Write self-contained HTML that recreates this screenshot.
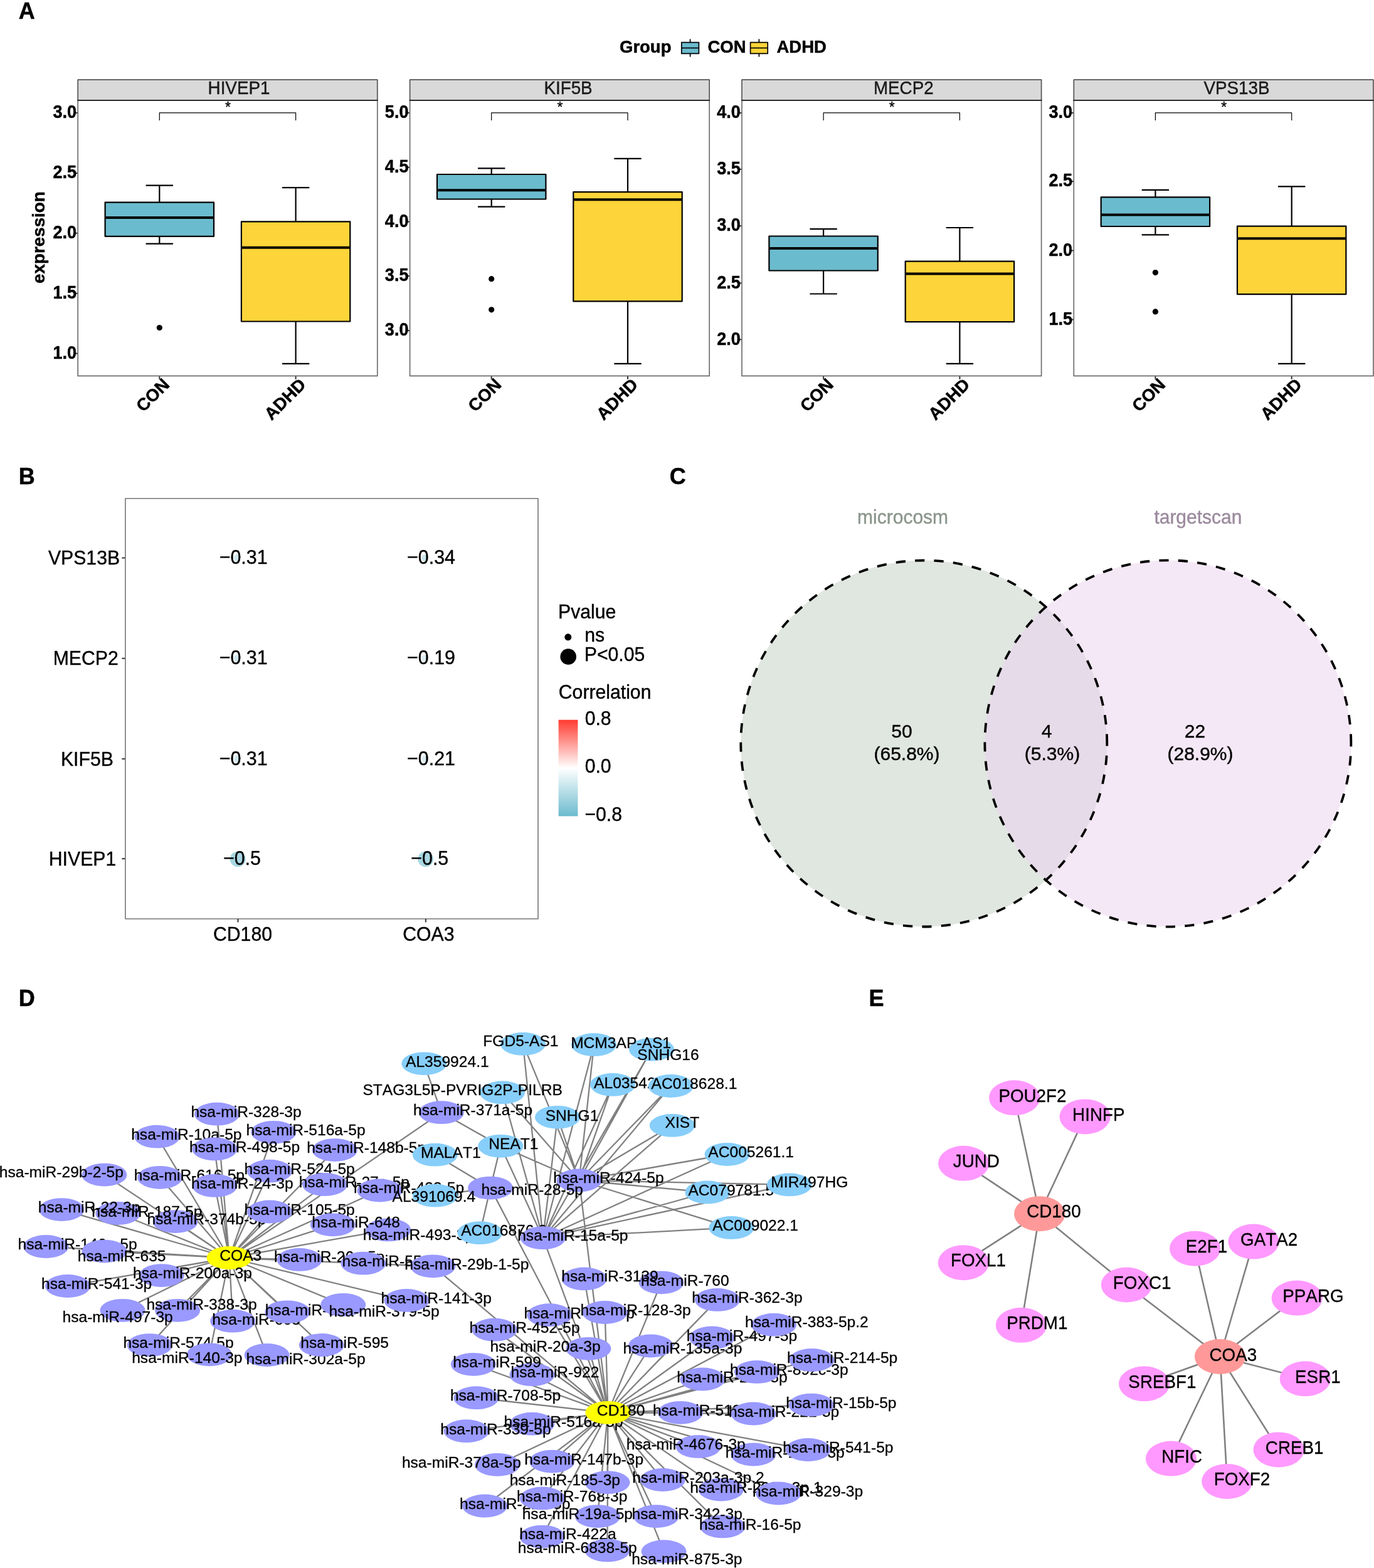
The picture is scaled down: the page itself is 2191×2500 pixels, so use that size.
<!DOCTYPE html>
<html lang="en"><head><meta charset="utf-8"><title>Figure</title>
<style>html,body{margin:0;padding:0;background:#fff}svg{display:block}text{font-kerning:none}</style>
</head><body>
<svg width="2191" height="2500" viewBox="0 0 2191 2500">
<rect width="2191" height="2500" fill="#fff"/>
<g font-family="'Liberation Sans', Arial, Helvetica, sans-serif" stroke-linejoin="round" font-weight="bold">
<text transform="translate(29.7 30.3) scale(1 1.0)" font-size="36" font-weight="bold" stroke="#000" stroke-width="0.5">A</text>
<text transform="translate(29.66 771.8) scale(1 1.0)" font-size="36" font-weight="bold" stroke="#000" stroke-width="0.5">B</text>
<text transform="translate(1067.76 771.8) scale(1 1.0)" font-size="36" font-weight="bold" stroke="#000" stroke-width="0.5">C</text>
<text transform="translate(29.66 1604.2) scale(1 1.0)" font-size="36" font-weight="bold" stroke="#000" stroke-width="0.5">D</text>
<text transform="translate(1385.46 1604.2) scale(1 1.0)" font-size="36" font-weight="bold" stroke="#000" stroke-width="0.5">E</text>
</g>
<g font-family="'Liberation Sans', Arial, Helvetica, sans-serif" stroke-linejoin="round">
<text transform="translate(988 83.8) scale(1 1.03)" font-size="27.5" font-weight="bold" stroke="#000" stroke-width="0.5">Group</text>
<line x1="1100.6" y1="62.3" x2="1100.6" y2="90.6" stroke="#000" stroke-width="1.7"/>
<rect x="1086.8" y="67.6" width="27.6" height="17.8" fill="#6BBBCE" stroke="#000" stroke-width="1.7"/>
<line x1="1086.8" y1="76.5" x2="1114.4" y2="76.5" stroke="#000" stroke-width="1.7"/>
<text transform="translate(1128.5 83.8) scale(1 1.03)" font-size="27.5" font-weight="bold" stroke="#000" stroke-width="0.5">CON</text>
<line x1="1210.4" y1="62.3" x2="1210.4" y2="90.6" stroke="#000" stroke-width="1.7"/>
<rect x="1196.6" y="67.6" width="27.6" height="17.8" fill="#FDD439" stroke="#000" stroke-width="1.7"/>
<line x1="1196.6" y1="76.5" x2="1224.2" y2="76.5" stroke="#000" stroke-width="1.7"/>
<text transform="translate(1238.5 83.8) scale(1 1.03)" font-size="27.5" font-weight="bold" stroke="#000" stroke-width="0.5">ADHD</text>
<text transform="translate(71 378.6) rotate(-90) scale(1 1.0)" font-size="27.8" text-anchor="middle" font-weight="bold" stroke="#000" stroke-width="0.5">expression</text>
<rect x="124.2" y="127.2" width="477.6" height="32.6" fill="#D9D9D9" stroke="#555555" stroke-width="1.7"/>
<text transform="translate(381 149.8) scale(1 1.05)" font-size="27.8" text-anchor="middle" fill="#1A1A1A" stroke="#1A1A1A" stroke-width="0.4">HIVEP1</text>
<line x1="118.6" y1="180" x2="124.2" y2="180" stroke="#3A3A3A" stroke-width="2.1"/>
<text transform="translate(122 188.2) scale(1 1.06)" font-size="27" text-anchor="end" font-weight="bold" stroke="#000" stroke-width="0.5">3.0</text>
<line x1="118.6" y1="276" x2="124.2" y2="276" stroke="#3A3A3A" stroke-width="2.1"/>
<text transform="translate(122 284.2) scale(1 1.06)" font-size="27" text-anchor="end" font-weight="bold" stroke="#000" stroke-width="0.5">2.5</text>
<line x1="118.6" y1="371.8" x2="124.2" y2="371.8" stroke="#3A3A3A" stroke-width="2.1"/>
<text transform="translate(122 380) scale(1 1.06)" font-size="27" text-anchor="end" font-weight="bold" stroke="#000" stroke-width="0.5">2.0</text>
<line x1="118.6" y1="467.7" x2="124.2" y2="467.7" stroke="#3A3A3A" stroke-width="2.1"/>
<text transform="translate(122 475.9) scale(1 1.06)" font-size="27" text-anchor="end" font-weight="bold" stroke="#000" stroke-width="0.5">1.5</text>
<line x1="118.6" y1="563.6" x2="124.2" y2="563.6" stroke="#3A3A3A" stroke-width="2.1"/>
<text transform="translate(122 571.8) scale(1 1.06)" font-size="27" text-anchor="end" font-weight="bold" stroke="#000" stroke-width="0.5">1.0</text>
<line x1="254.3" y1="599.4" x2="254.3" y2="604.7" stroke="#3A3A3A" stroke-width="2.1"/>
<line x1="471.6" y1="599.4" x2="471.6" y2="604.7" stroke="#3A3A3A" stroke-width="2.1"/>
<path d="M254.3 295.7V322.7M254.3 376.8V388.6M232.6 295.7H276M232.6 388.6H276" stroke="#000" stroke-width="2.2" fill="none"/>
<rect x="167.6" y="322.7" width="173.4" height="54.1" fill="#6BBBCE" stroke="#000" stroke-width="2.2"/>
<line x1="167.6" y1="346.9" x2="341" y2="346.9" stroke="#000" stroke-width="4"/>
<circle cx="254.3" cy="522.5" r="4.6" fill="#000"/>
<path d="M471.6 299.2V353.4M471.6 512.5V579.9M449.9 299.2H493.3M449.9 579.9H493.3" stroke="#000" stroke-width="2.2" fill="none"/>
<rect x="384.9" y="353.4" width="173.4" height="159.1" fill="#FDD439" stroke="#000" stroke-width="2.2"/>
<line x1="384.9" y1="394.8" x2="558.3" y2="394.8" stroke="#000" stroke-width="4"/>
<path d="M254.3 192V179.8H471.6V192" stroke="#000" stroke-width="1.2" fill="none"/>
<text transform="translate(363.55 178.6) scale(1 1.05)" font-size="23" text-anchor="middle" stroke="#000" stroke-width="0.3">*</text>
<rect x="124.2" y="159.8" width="477.6" height="439.6" fill="none" stroke="#6E6E6E" stroke-width="1.7"/>
<line x1="123.35" y1="159.8" x2="602.65" y2="159.8" stroke="#222" stroke-width="1.8"/>
<text transform="translate(271.8 615) rotate(-45) scale(1 1.0)" font-size="27.6" text-anchor="end" font-weight="bold" stroke="#000" stroke-width="0.5">CON</text>
<text transform="translate(489.4 614.8) rotate(-45) scale(1 1.0)" font-size="27.6" text-anchor="end" font-weight="bold" stroke="#000" stroke-width="0.5">ADHD</text>
<rect x="653.6" y="127.2" width="477.6" height="32.6" fill="#D9D9D9" stroke="#555555" stroke-width="1.7"/>
<text transform="translate(906 149.8) scale(1 1.05)" font-size="27.8" text-anchor="middle" fill="#1A1A1A" stroke="#1A1A1A" stroke-width="0.4">KIF5B</text>
<line x1="648" y1="180" x2="653.6" y2="180" stroke="#3A3A3A" stroke-width="2.1"/>
<text transform="translate(651.4 188.2) scale(1 1.06)" font-size="27" text-anchor="end" font-weight="bold" stroke="#000" stroke-width="0.5">5.0</text>
<line x1="648" y1="266.8" x2="653.6" y2="266.8" stroke="#3A3A3A" stroke-width="2.1"/>
<text transform="translate(651.4 275) scale(1 1.06)" font-size="27" text-anchor="end" font-weight="bold" stroke="#000" stroke-width="0.5">4.5</text>
<line x1="648" y1="353.6" x2="653.6" y2="353.6" stroke="#3A3A3A" stroke-width="2.1"/>
<text transform="translate(651.4 361.8) scale(1 1.06)" font-size="27" text-anchor="end" font-weight="bold" stroke="#000" stroke-width="0.5">4.0</text>
<line x1="648" y1="440" x2="653.6" y2="440" stroke="#3A3A3A" stroke-width="2.1"/>
<text transform="translate(651.4 448.2) scale(1 1.06)" font-size="27" text-anchor="end" font-weight="bold" stroke="#000" stroke-width="0.5">3.5</text>
<line x1="648" y1="527.1" x2="653.6" y2="527.1" stroke="#3A3A3A" stroke-width="2.1"/>
<text transform="translate(651.4 535.3) scale(1 1.06)" font-size="27" text-anchor="end" font-weight="bold" stroke="#000" stroke-width="0.5">3.0</text>
<line x1="783.7" y1="599.4" x2="783.7" y2="604.7" stroke="#3A3A3A" stroke-width="2.1"/>
<line x1="1001" y1="599.4" x2="1001" y2="604.7" stroke="#3A3A3A" stroke-width="2.1"/>
<path d="M783.7 268.3V278M783.7 317.5V329.6M762 268.3H805.4M762 329.6H805.4" stroke="#000" stroke-width="2.2" fill="none"/>
<rect x="697" y="278" width="173.4" height="39.5" fill="#6BBBCE" stroke="#000" stroke-width="2.2"/>
<line x1="697" y1="303.2" x2="870.4" y2="303.2" stroke="#000" stroke-width="4"/>
<circle cx="783.7" cy="444.7" r="4.6" fill="#000"/>
<circle cx="783.7" cy="493.8" r="4.6" fill="#000"/>
<path d="M1001 252.8V306.1M1001 480.3V579.9M979.3 252.8H1022.7M979.3 579.9H1022.7" stroke="#000" stroke-width="2.2" fill="none"/>
<rect x="914.3" y="306.1" width="173.4" height="174.2" fill="#FDD439" stroke="#000" stroke-width="2.2"/>
<line x1="914.3" y1="318.2" x2="1087.7" y2="318.2" stroke="#000" stroke-width="4"/>
<path d="M783.7 192V179.8H1001V192" stroke="#000" stroke-width="1.2" fill="none"/>
<text transform="translate(892.95 178.6) scale(1 1.05)" font-size="23" text-anchor="middle" stroke="#000" stroke-width="0.3">*</text>
<rect x="653.6" y="159.8" width="477.6" height="439.6" fill="none" stroke="#6E6E6E" stroke-width="1.7"/>
<line x1="652.75" y1="159.8" x2="1132.05" y2="159.8" stroke="#222" stroke-width="1.8"/>
<text transform="translate(801.2 615) rotate(-45) scale(1 1.0)" font-size="27.6" text-anchor="end" font-weight="bold" stroke="#000" stroke-width="0.5">CON</text>
<text transform="translate(1018.8 614.8) rotate(-45) scale(1 1.0)" font-size="27.6" text-anchor="end" font-weight="bold" stroke="#000" stroke-width="0.5">ADHD</text>
<rect x="1183" y="127.2" width="477.6" height="32.6" fill="#D9D9D9" stroke="#555555" stroke-width="1.7"/>
<text transform="translate(1440.8 149.8) scale(1 1.05)" font-size="27.8" text-anchor="middle" fill="#1A1A1A" stroke="#1A1A1A" stroke-width="0.4">MECP2</text>
<line x1="1177.4" y1="180" x2="1183" y2="180" stroke="#3A3A3A" stroke-width="2.1"/>
<text transform="translate(1180.8 188.2) scale(1 1.06)" font-size="27" text-anchor="end" font-weight="bold" stroke="#000" stroke-width="0.5">4.0</text>
<line x1="1177.4" y1="269.9" x2="1183" y2="269.9" stroke="#3A3A3A" stroke-width="2.1"/>
<text transform="translate(1180.8 278.1) scale(1 1.06)" font-size="27" text-anchor="end" font-weight="bold" stroke="#000" stroke-width="0.5">3.5</text>
<line x1="1177.4" y1="360.2" x2="1183" y2="360.2" stroke="#3A3A3A" stroke-width="2.1"/>
<text transform="translate(1180.8 368.4) scale(1 1.06)" font-size="27" text-anchor="end" font-weight="bold" stroke="#000" stroke-width="0.5">3.0</text>
<line x1="1177.4" y1="451.4" x2="1183" y2="451.4" stroke="#3A3A3A" stroke-width="2.1"/>
<text transform="translate(1180.8 459.6) scale(1 1.06)" font-size="27" text-anchor="end" font-weight="bold" stroke="#000" stroke-width="0.5">2.5</text>
<line x1="1177.4" y1="541.3" x2="1183" y2="541.3" stroke="#3A3A3A" stroke-width="2.1"/>
<text transform="translate(1180.8 549.5) scale(1 1.06)" font-size="27" text-anchor="end" font-weight="bold" stroke="#000" stroke-width="0.5">2.0</text>
<line x1="1313.1" y1="599.4" x2="1313.1" y2="604.7" stroke="#3A3A3A" stroke-width="2.1"/>
<line x1="1530.4" y1="599.4" x2="1530.4" y2="604.7" stroke="#3A3A3A" stroke-width="2.1"/>
<path d="M1313.1 365.1V376.5M1313.1 431.5V468.5M1291.4 365.1H1334.8M1291.4 468.5H1334.8" stroke="#000" stroke-width="2.2" fill="none"/>
<rect x="1226.4" y="376.5" width="173.4" height="55" fill="#6BBBCE" stroke="#000" stroke-width="2.2"/>
<line x1="1226.4" y1="395.9" x2="1399.8" y2="395.9" stroke="#000" stroke-width="4"/>
<path d="M1530.4 363V416.6M1530.4 513.2V579.9M1508.7 363H1552.1M1508.7 579.9H1552.1" stroke="#000" stroke-width="2.2" fill="none"/>
<rect x="1443.7" y="416.6" width="173.4" height="96.6" fill="#FDD439" stroke="#000" stroke-width="2.2"/>
<line x1="1443.7" y1="436.4" x2="1617.1" y2="436.4" stroke="#000" stroke-width="4"/>
<path d="M1313.1 192V179.8H1530.4V192" stroke="#000" stroke-width="1.2" fill="none"/>
<text transform="translate(1422.35 178.6) scale(1 1.05)" font-size="23" text-anchor="middle" stroke="#000" stroke-width="0.3">*</text>
<rect x="1183" y="159.8" width="477.6" height="439.6" fill="none" stroke="#6E6E6E" stroke-width="1.7"/>
<line x1="1182.15" y1="159.8" x2="1661.45" y2="159.8" stroke="#222" stroke-width="1.8"/>
<text transform="translate(1330.6 615) rotate(-45) scale(1 1.0)" font-size="27.6" text-anchor="end" font-weight="bold" stroke="#000" stroke-width="0.5">CON</text>
<text transform="translate(1548.2 614.8) rotate(-45) scale(1 1.0)" font-size="27.6" text-anchor="end" font-weight="bold" stroke="#000" stroke-width="0.5">ADHD</text>
<rect x="1712.3" y="127.2" width="477.6" height="32.6" fill="#D9D9D9" stroke="#555555" stroke-width="1.7"/>
<text transform="translate(1972 149.8) scale(1 1.05)" font-size="27.8" text-anchor="middle" fill="#1A1A1A" stroke="#1A1A1A" stroke-width="0.4">VPS13B</text>
<line x1="1706.7" y1="180" x2="1712.3" y2="180" stroke="#3A3A3A" stroke-width="2.1"/>
<text transform="translate(1710.1 188.2) scale(1 1.06)" font-size="27" text-anchor="end" font-weight="bold" stroke="#000" stroke-width="0.5">3.0</text>
<line x1="1706.7" y1="289.2" x2="1712.3" y2="289.2" stroke="#3A3A3A" stroke-width="2.1"/>
<text transform="translate(1710.1 297.4) scale(1 1.06)" font-size="27" text-anchor="end" font-weight="bold" stroke="#000" stroke-width="0.5">2.5</text>
<line x1="1706.7" y1="399.5" x2="1712.3" y2="399.5" stroke="#3A3A3A" stroke-width="2.1"/>
<text transform="translate(1710.1 407.7) scale(1 1.06)" font-size="27" text-anchor="end" font-weight="bold" stroke="#000" stroke-width="0.5">2.0</text>
<line x1="1706.7" y1="509.5" x2="1712.3" y2="509.5" stroke="#3A3A3A" stroke-width="2.1"/>
<text transform="translate(1710.1 517.7) scale(1 1.06)" font-size="27" text-anchor="end" font-weight="bold" stroke="#000" stroke-width="0.5">1.5</text>
<line x1="1842.4" y1="599.4" x2="1842.4" y2="604.7" stroke="#3A3A3A" stroke-width="2.1"/>
<line x1="2059.7" y1="599.4" x2="2059.7" y2="604.7" stroke="#3A3A3A" stroke-width="2.1"/>
<path d="M1842.4 302.9V314.4M1842.4 361V374.4M1820.7 302.9H1864.1M1820.7 374.4H1864.1" stroke="#000" stroke-width="2.2" fill="none"/>
<rect x="1755.7" y="314.4" width="173.4" height="46.6" fill="#6BBBCE" stroke="#000" stroke-width="2.2"/>
<line x1="1755.7" y1="342.4" x2="1929.1" y2="342.4" stroke="#000" stroke-width="4"/>
<circle cx="1842.4" cy="434.6" r="4.6" fill="#000"/>
<circle cx="1842.4" cy="496.9" r="4.6" fill="#000"/>
<path d="M2059.7 297.4V360.6M2059.7 469.2V579.9M2038 297.4H2081.4M2038 579.9H2081.4" stroke="#000" stroke-width="2.2" fill="none"/>
<rect x="1973" y="360.6" width="173.4" height="108.6" fill="#FDD439" stroke="#000" stroke-width="2.2"/>
<line x1="1973" y1="380.3" x2="2146.4" y2="380.3" stroke="#000" stroke-width="4"/>
<path d="M1842.4 192V179.8H2059.7V192" stroke="#000" stroke-width="1.2" fill="none"/>
<text transform="translate(1951.65 178.6) scale(1 1.05)" font-size="23" text-anchor="middle" stroke="#000" stroke-width="0.3">*</text>
<rect x="1712.3" y="159.8" width="477.6" height="439.6" fill="none" stroke="#6E6E6E" stroke-width="1.7"/>
<line x1="1711.45" y1="159.8" x2="2190.75" y2="159.8" stroke="#222" stroke-width="1.8"/>
<text transform="translate(1859.9 615) rotate(-45) scale(1 1.0)" font-size="27.6" text-anchor="end" font-weight="bold" stroke="#000" stroke-width="0.5">CON</text>
<text transform="translate(2077.5 614.8) rotate(-45) scale(1 1.0)" font-size="27.6" text-anchor="end" font-weight="bold" stroke="#000" stroke-width="0.5">ADHD</text>
</g>
<g font-family="'Liberation Sans', Arial, Helvetica, sans-serif" stroke-linejoin="round" font-size="30.2">
<defs><linearGradient id="cbar" x1="0" y1="0" x2="0" y2="1"><stop offset="0" stop-color="#FF3B30"/><stop offset="0.5" stop-color="#FFFFFF"/><stop offset="1" stop-color="#6BBBCE"/></linearGradient></defs>
<line x1="194.4" y1="889.5" x2="200" y2="889.5" stroke="#3A3A3A" stroke-width="2.1"/>
<text transform="translate(134 900.1) scale(1 1.05)" text-anchor="middle" stroke="#000" stroke-width="0.4">VPS13B</text>
<ellipse cx="377.5" cy="889.5" rx="4.2" ry="5.6" fill="#CFE8EF"/>
<text transform="translate(349.68 899.1) scale(1 1.04)" font-size="30.4" stroke="#000" stroke-width="0.4">−0.31</text>
<ellipse cx="676.9" cy="889.5" rx="4.2" ry="5.6" fill="#CBE6EE"/>
<text transform="translate(649.08 899.1) scale(1 1.04)" font-size="30.4" stroke="#000" stroke-width="0.4">−0.34</text>
<line x1="194.4" y1="1049.7" x2="200" y2="1049.7" stroke="#3A3A3A" stroke-width="2.1"/>
<text transform="translate(136.7 1060.3) scale(1 1.05)" text-anchor="middle" stroke="#000" stroke-width="0.4">MECP2</text>
<ellipse cx="377.5" cy="1049.7" rx="4.2" ry="5.6" fill="#CFE8EF"/>
<text transform="translate(349.68 1059.3) scale(1 1.04)" font-size="30.4" stroke="#000" stroke-width="0.4">−0.31</text>
<ellipse cx="676.9" cy="1049.7" rx="4.2" ry="5.6" fill="#DCEEF3"/>
<text transform="translate(649.08 1059.3) scale(1 1.04)" font-size="30.4" stroke="#000" stroke-width="0.4">−0.19</text>
<line x1="194.4" y1="1209.9" x2="200" y2="1209.9" stroke="#3A3A3A" stroke-width="2.1"/>
<text transform="translate(138.9 1220.5) scale(1 1.05)" text-anchor="middle" stroke="#000" stroke-width="0.4">KIF5B</text>
<ellipse cx="377.5" cy="1209.9" rx="4.2" ry="5.6" fill="#CFE8EF"/>
<text transform="translate(349.68 1219.5) scale(1 1.04)" font-size="30.4" stroke="#000" stroke-width="0.4">−0.31</text>
<ellipse cx="676.9" cy="1209.9" rx="4.2" ry="5.6" fill="#DAEDF2"/>
<text transform="translate(649.08 1219.5) scale(1 1.04)" font-size="30.4" stroke="#000" stroke-width="0.4">−0.21</text>
<line x1="194.4" y1="1369.1" x2="200" y2="1369.1" stroke="#3A3A3A" stroke-width="2.1"/>
<text transform="translate(131.5 1379.7) scale(1 1.05)" text-anchor="middle" stroke="#000" stroke-width="0.4">HIVEP1</text>
<circle cx="379.2" cy="1369.8" r="12.4" fill="#A9D7E2"/>
<text transform="translate(355.88 1378.7) scale(1 1.04)" font-size="30.4" stroke="#000" stroke-width="0.4">−0.5</text>
<circle cx="678.6" cy="1369.8" r="12.4" fill="#A9D7E2"/>
<text transform="translate(655.28 1378.7) scale(1 1.04)" font-size="30.4" stroke="#000" stroke-width="0.4">−0.5</text>
<rect x="199.9" y="794.7" width="658.1" height="670.3" fill="none" stroke="#757575" stroke-width="1.6"/>
<line x1="379.5" y1="1465" x2="379.5" y2="1470.4" stroke="#3A3A3A" stroke-width="2.1"/>
<text transform="translate(387 1500) scale(1 1.05)" text-anchor="middle" stroke="#000" stroke-width="0.4">CD180</text>
<line x1="678.9" y1="1465" x2="678.9" y2="1470.4" stroke="#3A3A3A" stroke-width="2.1"/>
<text transform="translate(683.4 1500) scale(1 1.05)" text-anchor="middle" stroke="#000" stroke-width="0.4">COA3</text>
<text transform="translate(890.08 986.4) scale(1 1.05)" font-size="30.2" stroke="#000" stroke-width="0.4">Pvalue</text>
<circle cx="905.8" cy="1015.8" r="5.5" fill="#000"/>
<text transform="translate(932.24 1023) scale(1 1.05)" font-size="30.2" stroke="#000" stroke-width="0.4">ns</text>
<circle cx="906.2" cy="1047" r="12.8" fill="#000"/>
<text transform="translate(931.78 1054) scale(1 1.05)" font-size="30.2" stroke="#000" stroke-width="0.4">P&lt;0.05</text>
<text transform="translate(890.79 1113.7) scale(1 1.05)" font-size="30.2" stroke="#000" stroke-width="0.4">Correlation</text>
<rect x="890.6" y="1147.7" width="30.8" height="153.6" fill="url(#cbar)"/>
<text transform="translate(932.69 1155.6) scale(1 1.05)" font-size="30.2" stroke="#000" stroke-width="0.4">0.8</text>
<text transform="translate(932.69 1232) scale(1 1.05)" font-size="30.2" stroke="#000" stroke-width="0.4">0.0</text>
<text transform="translate(932.39 1308.8) scale(1 1.05)" font-size="30.2" stroke="#000" stroke-width="0.4">−0.8</text>
</g>
<g font-family="'Liberation Sans', Arial, Helvetica, sans-serif" stroke-linejoin="round" font-size="30">
<defs><clipPath id="vc1"><circle cx="1473.3" cy="1185.5" r="292"/></clipPath></defs>
<circle cx="1473.3" cy="1185.5" r="292" fill="#E0E6E0"/>
<circle cx="1862.4" cy="1185.5" r="292" fill="#F5E8F6"/>
<circle cx="1862.4" cy="1185.5" r="292" fill="#E6DBE8" clip-path="url(#vc1)"/>
<path d="M1765.3 1185.5A292 292 0 1 0 1181.3 1185.5A292 292 0 1 0 1765.3 1185.5" fill="none" stroke="#000" stroke-width="3.8" stroke-dasharray="15.25 15.25"/>
<path d="M2154.4 1185.5A292 292 0 1 0 1570.4 1185.5A292 292 0 1 0 2154.4 1185.5" fill="none" stroke="#000" stroke-width="3.8" stroke-dasharray="15.25 15.25"/>
<text transform="translate(1439.6 835) scale(1 1.05)" text-anchor="middle" fill="#8B968C" stroke="#8B968C" stroke-width="0.4">microcosm</text>
<text transform="translate(1910.4 835) scale(1 1.05)" text-anchor="middle" fill="#9B8A9D" stroke="#9B8A9D" stroke-width="0.4">targetscan</text>
<text transform="translate(1438 1175.6) scale(1 1.0)" text-anchor="middle" stroke="#000" stroke-width="0.4">50</text>
<text transform="translate(1446 1211.9) scale(1 1.0)" text-anchor="middle" stroke="#000" stroke-width="0.4">(65.8%)</text>
<text transform="translate(1669 1175.6) scale(1 1.0)" text-anchor="middle" stroke="#000" stroke-width="0.4">4</text>
<text transform="translate(1678 1211.9) scale(1 1.0)" text-anchor="middle" stroke="#000" stroke-width="0.4">(5.3%)</text>
<text transform="translate(1905.4 1175.6) scale(1 1.0)" text-anchor="middle" stroke="#000" stroke-width="0.4">22</text>
<text transform="translate(1914 1211.9) scale(1 1.0)" text-anchor="middle" stroke="#000" stroke-width="0.4">(28.9%)</text>
</g>
<g font-family="'Liberation Sans', Arial, Helvetica, sans-serif" stroke-linejoin="round" font-size="24.6">
<path d="M365.6 2005.5L346 1776.2M365.6 2005.5L250.5 1812.2M365.6 2005.5L436.3 1805.3M365.6 2005.5L342.2 1832M365.6 2005.5L533.8 1833.6M365.6 2005.5L166.4 1873.1M365.6 2005.5L255 1877.3M365.6 2005.5L430 1867.2M365.6 2005.5L342.5 1890.4M365.6 2005.5L518 1888.5M365.6 2005.5L605.3 1898M365.6 2005.5L98.3 1928.6M365.6 2005.5L188.2 1934.5M365.6 2005.5L279.6 1947.6M365.6 2005.5L430 1932M365.6 2005.5L530.8 1952.8M365.6 2005.5L619.1 1960.9M365.6 2005.5L73.3 1987.5M365.6 2005.5L166.4 1995.1M365.6 2005.5L477.5 2008.4M365.6 2005.5L579.3 2014.2M365.6 2005.5L690.4 2018.8M365.6 2005.5L257.8 2033.6M365.6 2005.5L108 2050.5M365.6 2005.5L195.5 2089.3M365.6 2005.5L283 2089.3M365.6 2005.5L371.2 2106.2M365.6 2005.5L458.4 2091.8M365.6 2005.5L547.2 2080.3M365.6 2005.5L648.4 2073.4M365.6 2005.5L238.7 2144.6M365.6 2005.5L333.9 2159.8M365.6 2005.5L425.6 2160.5M365.6 2005.5L512.8 2144.5M365.6 2005.5L703.9 1773.7M969.4 2252.3L782 1894.1M969.4 2252.3L923.5 1882M969.4 2252.3L865.8 1973.7M969.4 2252.3L690.4 2018.8M969.4 2252.3L931.7 2038.9M969.4 2252.3L1054.5 2044.8M969.4 2252.3L1143.9 2072.4M969.4 2252.3L876.2 2096.7M969.4 2252.3L964.7 2092.5M969.4 2252.3L1234 2112.2M969.4 2252.3L1135.1 2133M969.4 2252.3L788.6 2120.2M969.4 2252.3L938.4 2150.3M969.4 2252.3L1037.7 2146M969.4 2252.3L1294.6 2168.5M969.4 2252.3L1207 2187.4M969.4 2252.3L1120.2 2199M969.4 2252.3L754.9 2175.3M969.4 2252.3L848.4 2191.7M969.4 2252.3L759.4 2228.7M969.4 2252.3L1085 2252.3M969.4 2252.3L1201.4 2254M969.4 2252.3L1293.8 2240.1M969.4 2252.3L848.4 2270.2M969.4 2252.3L743.6 2281.7M969.4 2252.3L1113.6 2306.4M969.4 2252.3L1201.4 2319M969.4 2252.3L1288.7 2311.5M969.4 2252.3L793.1 2335.3M969.4 2252.3L880.3 2330.1M969.4 2252.3L968.5 2363.6M969.4 2252.3L1056.9 2359.5M969.4 2252.3L1149.7 2375.1M969.4 2252.3L1241.2 2381M969.4 2252.3L773 2401M969.4 2252.3L864.7 2388.9M969.4 2252.3L952.9 2417.6M969.4 2252.3L1046.5 2417.6M969.4 2252.3L1152.3 2433.9M969.4 2252.3L864.7 2450.1M969.4 2252.3L968.5 2471.9M969.4 2252.3L1058.6 2473.7M834 1664.4L923.5 1882M834 1664.4L865.8 1973.7M947.2 1665.7L923.5 1882M947.2 1665.7L865.8 1973.7M1039 1673.3L923.5 1882M1039 1673.3L865.8 1973.7M676.2 1695.8L703.9 1773.7M801.1 1741.9L923.5 1882M801.1 1741.9L865.8 1973.7M977 1729.4L923.5 1882M977 1729.4L865.8 1973.7M1069.7 1731.5L923.5 1882M1069.7 1731.5L865.8 1973.7M889 1781.3L923.5 1882M889 1781.3L865.8 1973.7M1071.8 1794.4L923.5 1882M1071.8 1794.4L865.8 1973.7M693.8 1841.2L782 1894.1M798.3 1827.3L703.9 1773.7M798.3 1827.3L782 1894.1M798.3 1827.3L923.5 1882M798.3 1827.3L865.8 1973.7M693.8 1906.2L782 1894.1M765.4 1965.7L782 1894.1M1159.5 1840.5L923.5 1882M1159.5 1840.5L865.8 1973.7M1258.8 1888.9L923.5 1882M1258.8 1888.9L865.8 1973.7M1128.3 1901L923.5 1882M1128.3 1901L865.8 1973.7M1166.4 1957.4L923.5 1882M1166.4 1957.4L865.8 1973.7" stroke="#808080" stroke-width="2.3" fill="none"/>
<ellipse cx="346" cy="1776.2" rx="36" ry="18.4" fill="#9999FF"/><text transform="translate(304.38 1781.1) scale(1 0.95)" font-size="24.6" stroke="#000" stroke-width="0.3">hsa-miR-328-3p</text>
<ellipse cx="250.5" cy="1812.2" rx="36" ry="18.4" fill="#9999FF"/><text transform="translate(209.18 1816.7) scale(1 0.95)" font-size="24.6" stroke="#000" stroke-width="0.3">hsa-miR-10a-5p</text>
<ellipse cx="436.3" cy="1805.3" rx="36" ry="18.4" fill="#9999FF"/><text transform="translate(392.58 1809.8) scale(1 0.95)" font-size="24.6" stroke="#000" stroke-width="0.3">hsa-miR-516a-5p</text>
<ellipse cx="342.2" cy="1832" rx="36" ry="18.4" fill="#9999FF"/><text transform="translate(301.88 1836.8) scale(1 0.95)" font-size="24.6" stroke="#000" stroke-width="0.3">hsa-miR-498-5p</text>
<ellipse cx="533.8" cy="1833.6" rx="36" ry="18.4" fill="#9999FF"/><text transform="translate(489.18 1837.9) scale(1 0.95)" font-size="24.6" stroke="#000" stroke-width="0.3">hsa-miR-148b-5p</text>
<ellipse cx="166.4" cy="1873.1" rx="36" ry="18.4" fill="#9999FF"/><text transform="translate(-1.22 1877.3) scale(1 0.95)" font-size="24.6" stroke="#000" stroke-width="0.3">hsa-miR-29b-2-5p</text>
<ellipse cx="255" cy="1877.3" rx="36" ry="18.4" fill="#9999FF"/><text transform="translate(213.68 1881.8) scale(1 0.95)" font-size="24.6" stroke="#000" stroke-width="0.3">hsa-miR-616-5p</text>
<ellipse cx="430" cy="1867.2" rx="36" ry="18.4" fill="#9999FF"/><text transform="translate(389.48 1872.1) scale(1 0.95)" font-size="24.6" stroke="#000" stroke-width="0.3">hsa-miR-524-5p</text>
<ellipse cx="342.5" cy="1890.4" rx="36" ry="18.4" fill="#9999FF"/><text transform="translate(305.08 1895.3) scale(1 0.95)" font-size="24.6" stroke="#000" stroke-width="0.3">hsa-miR-24-3p</text>
<ellipse cx="518" cy="1888.5" rx="36" ry="18.4" fill="#9999FF"/><text transform="translate(476.68 1892.8) scale(1 0.95)" font-size="24.6" stroke="#000" stroke-width="0.3">hsa-miR-27a-5p</text>
<ellipse cx="605.3" cy="1898" rx="36" ry="18.4" fill="#9999FF"/><text transform="translate(563.88 1902.4) scale(1 0.95)" font-size="24.6" stroke="#000" stroke-width="0.3">hsa-miR-423-5p</text>
<ellipse cx="279.6" cy="1947.6" rx="36" ry="18.4" fill="#9999FF"/><text transform="translate(234.48 1952.3) scale(1 0.95)" font-size="24.6" stroke="#000" stroke-width="0.3">hsa-miR-374b-5p</text>
<ellipse cx="188.2" cy="1934.5" rx="36" ry="18.4" fill="#9999FF"/><text transform="translate(146.18 1939.6) scale(1 0.95)" font-size="24.6" stroke="#000" stroke-width="0.3">hsa-miR-187-5p</text>
<ellipse cx="98.3" cy="1928.6" rx="36" ry="18.4" fill="#9999FF"/><text transform="translate(60.78 1932.6) scale(1 0.95)" font-size="24.6" stroke="#000" stroke-width="0.3">hsa-miR-22-3p</text>
<ellipse cx="430" cy="1932" rx="36" ry="18.4" fill="#9999FF"/><text transform="translate(389.48 1937.1) scale(1 0.95)" font-size="24.6" stroke="#000" stroke-width="0.3">hsa-miR-105-5p</text>
<ellipse cx="619.1" cy="1960.9" rx="36" ry="18.4" fill="#9999FF"/><text transform="translate(578.78 1976.8) scale(1 0.95)" font-size="24.6" stroke="#000" stroke-width="0.3">hsa-miR-493-3p</text>
<ellipse cx="530.8" cy="1952.8" rx="36" ry="18.4" fill="#9999FF"/><text transform="translate(497.28 1957) scale(1 0.95)" font-size="24.6" stroke="#000" stroke-width="0.3">hsa-miR-648</text>
<ellipse cx="73.3" cy="1987.5" rx="36" ry="18.4" fill="#9999FF"/><text transform="translate(28.58 1991.7) scale(1 0.95)" font-size="24.6" stroke="#000" stroke-width="0.3">hsa-miR-146a-5p</text>
<ellipse cx="166.4" cy="1995.1" rx="36" ry="18.4" fill="#9999FF"/><text transform="translate(123.78 2010.7) scale(1 0.95)" font-size="24.6" stroke="#000" stroke-width="0.3">hsa-miR-635</text>
<ellipse cx="365.6" cy="2005.5" rx="36" ry="18.4" fill="#FFFF00"/><text transform="translate(350.27 2009.8) scale(1 0.95)" font-size="24.6" stroke="#000" stroke-width="0.3">COA3</text>
<ellipse cx="477.5" cy="2008.4" rx="36" ry="18.4" fill="#9999FF"/><text transform="translate(436.98 2012.1) scale(1 0.95)" font-size="24.6" stroke="#000" stroke-width="0.3">hsa-miR-26a-5p</text>
<ellipse cx="579.3" cy="2014.2" rx="36" ry="18.4" fill="#9999FF"/><text transform="translate(545.48 2018.6) scale(1 0.95)" font-size="24.6" stroke="#000" stroke-width="0.3">hsa-miR-551a</text>
<ellipse cx="690.4" cy="2018.8" rx="36" ry="18.4" fill="#9999FF"/><text transform="translate(645.28 2023.6) scale(1 0.95)" font-size="24.6" stroke="#000" stroke-width="0.3">hsa-miR-29b-1-5p</text>
<ellipse cx="257.8" cy="2033.6" rx="36" ry="18.4" fill="#9999FF"/><text transform="translate(211.98 2038.4) scale(1 0.95)" font-size="24.6" stroke="#000" stroke-width="0.3">hsa-miR-200a-3p</text>
<ellipse cx="108" cy="2050.5" rx="36" ry="18.4" fill="#9999FF"/><text transform="translate(65.98 2054.6) scale(1 0.95)" font-size="24.6" stroke="#000" stroke-width="0.3">hsa-miR-541-3p</text>
<ellipse cx="283" cy="2089.3" rx="36" ry="18.4" fill="#9999FF"/><text transform="translate(233.38 2087.5) scale(1 0.95)" font-size="24.6" stroke="#000" stroke-width="0.3">hsa-miR-338-3p</text>
<ellipse cx="195.5" cy="2089.3" rx="36" ry="18.4" fill="#9999FF"/><text transform="translate(99.48 2107.6) scale(1 0.95)" font-size="24.6" stroke="#000" stroke-width="0.3">hsa-miR-497-3p</text>
<ellipse cx="371.2" cy="2106.2" rx="36" ry="18.4" fill="#9999FF"/><text transform="translate(338.18 2111.7) scale(1 0.95)" font-size="24.6" stroke="#000" stroke-width="0.3">hsa-miR-603</text>
<ellipse cx="458.4" cy="2091.8" rx="36" ry="18.4" fill="#9999FF"/><text transform="translate(422.68 2096.6) scale(1 0.95)" font-size="24.6" stroke="#000" stroke-width="0.3">hsa-miR-608</text>
<ellipse cx="547.2" cy="2080.3" rx="36" ry="18.4" fill="#9999FF"/><text transform="translate(524.38 2098.6) scale(1 0.95)" font-size="24.6" stroke="#000" stroke-width="0.3">hsa-miR-379-5p</text>
<ellipse cx="648.4" cy="2073.4" rx="36" ry="18.4" fill="#9999FF"/><text transform="translate(607.58 2078.3) scale(1 0.95)" font-size="24.6" stroke="#000" stroke-width="0.3">hsa-miR-141-3p</text>
<ellipse cx="238.7" cy="2144.6" rx="36" ry="18.4" fill="#9999FF"/><text transform="translate(196.38 2148.8) scale(1 0.95)" font-size="24.6" stroke="#000" stroke-width="0.3">hsa-miR-574-5p</text>
<ellipse cx="333.9" cy="2159.8" rx="36" ry="18.4" fill="#9999FF"/><text transform="translate(210.18 2173.3) scale(1 0.95)" font-size="24.6" stroke="#000" stroke-width="0.3">hsa-miR-140-3p</text>
<ellipse cx="425.6" cy="2160.5" rx="36" ry="18.4" fill="#9999FF"/><text transform="translate(392.58 2175) scale(1 0.95)" font-size="24.6" stroke="#000" stroke-width="0.3">hsa-miR-302a-5p</text>
<ellipse cx="512.8" cy="2144.5" rx="36" ry="18.4" fill="#9999FF"/><text transform="translate(479.28 2148.6) scale(1 0.95)" font-size="24.6" stroke="#000" stroke-width="0.3">hsa-miR-595</text>
<ellipse cx="703.9" cy="1773.7" rx="36" ry="18.4" fill="#9999FF"/><text transform="translate(659.08 1778.2) scale(1 0.95)" font-size="24.6" stroke="#000" stroke-width="0.3">hsa-miR-371a-5p</text>
<ellipse cx="834" cy="1664.4" rx="36" ry="18.4" fill="#87CEFA"/><text transform="translate(770.23 1668.1) scale(1 0.95)" font-size="24.6" stroke="#000" stroke-width="0.3">FGD5-AS1</text>
<ellipse cx="1039" cy="1673.3" rx="36" ry="18.4" fill="#87CEFA"/><text transform="translate(1016.29 1689.6) scale(1 0.95)" font-size="24.6" stroke="#000" stroke-width="0.3">SNHG16</text>
<ellipse cx="947.2" cy="1665.7" rx="36" ry="18.4" fill="#87CEFA"/><text transform="translate(910.13 1671.2) scale(1 0.95)" font-size="24.6" stroke="#000" stroke-width="0.3">MCM3AP-AS1</text>
<ellipse cx="676.2" cy="1695.8" rx="36" ry="18.4" fill="#87CEFA"/><text transform="translate(647 1701) scale(1 0.95)" font-size="24.6" stroke="#000" stroke-width="0.3">AL359924.1</text>
<ellipse cx="801.1" cy="1741.9" rx="36" ry="18.4" fill="#87CEFA"/><text transform="translate(578.39 1746) scale(1 0.95)" font-size="24.6" stroke="#000" stroke-width="0.3">STAG3L5P-PVRIG2P-PILRB</text>
<ellipse cx="977" cy="1729.4" rx="36" ry="18.4" fill="#87CEFA"/><text transform="translate(947.1 1734.6) scale(1 0.95)" font-size="24.6" stroke="#000" stroke-width="0.3">AL035425.3</text>
<ellipse cx="1069.7" cy="1731.5" rx="36" ry="18.4" fill="#87CEFA"/><text transform="translate(1038.6 1736.3) scale(1 0.95)" font-size="24.6" stroke="#000" stroke-width="0.3">AC018628.1</text>
<ellipse cx="889" cy="1781.3" rx="36" ry="18.4" fill="#87CEFA"/><text transform="translate(869.69 1786.5) scale(1 0.95)" font-size="24.6" stroke="#000" stroke-width="0.3">SNHG1</text>
<ellipse cx="1071.8" cy="1794.4" rx="36" ry="18.4" fill="#87CEFA"/><text transform="translate(1060.49 1797.9) scale(1 0.95)" font-size="24.6" stroke="#000" stroke-width="0.3">XIST</text>
<ellipse cx="693.8" cy="1841.2" rx="36" ry="18.4" fill="#87CEFA"/><text transform="translate(670.93 1845.6) scale(1 0.95)" font-size="24.6" stroke="#000" stroke-width="0.3">MALAT1</text>
<ellipse cx="798.3" cy="1827.3" rx="36" ry="18.4" fill="#87CEFA"/><text transform="translate(779.23 1831.8) scale(1 0.95)" font-size="24.6" stroke="#000" stroke-width="0.3">NEAT1</text>
<ellipse cx="765.4" cy="1965.7" rx="36" ry="18.4" fill="#87CEFA"/><text transform="translate(735.2 1969.9) scale(1 0.95)" font-size="24.6" stroke="#000" stroke-width="0.3">AC016876.2</text>
<ellipse cx="1159.5" cy="1840.5" rx="36" ry="18.4" fill="#87CEFA"/><text transform="translate(1129.3 1844.9) scale(1 0.95)" font-size="24.6" stroke="#000" stroke-width="0.3">AC005261.1</text>
<ellipse cx="1128.3" cy="1901" rx="36" ry="18.4" fill="#87CEFA"/><text transform="translate(1097.4 1905.8) scale(1 0.95)" font-size="24.6" stroke="#000" stroke-width="0.3">AC079781.5</text>
<ellipse cx="1258.8" cy="1888.9" rx="36" ry="18.4" fill="#87CEFA"/><text transform="translate(1229.33 1893.4) scale(1 0.95)" font-size="24.6" stroke="#000" stroke-width="0.3">MIR497HG</text>
<ellipse cx="1166.4" cy="1957.4" rx="36" ry="18.4" fill="#87CEFA"/><text transform="translate(1136.2 1962.2) scale(1 0.95)" font-size="24.6" stroke="#000" stroke-width="0.3">AC009022.1</text>
<ellipse cx="923.5" cy="1882" rx="36" ry="18.4" fill="#9999FF"/><text transform="translate(882.28 1886.1) scale(1 0.95)" font-size="24.6" stroke="#000" stroke-width="0.3">hsa-miR-424-5p</text>
<ellipse cx="782" cy="1894.1" rx="36" ry="18.4" fill="#9999FF"/><text transform="translate(767.38 1904.5) scale(1 0.95)" font-size="24.6" stroke="#000" stroke-width="0.3">hsa-miR-28-5p</text>
<ellipse cx="693.8" cy="1906.2" rx="36" ry="18.4" fill="#87CEFA"/><text transform="translate(625.5 1915.6) scale(1 0.95)" font-size="24.6" stroke="#000" stroke-width="0.3">AL391069.4</text>
<ellipse cx="865.8" cy="1973.7" rx="36" ry="18.4" fill="#9999FF"/><text transform="translate(825.18 1977.8) scale(1 0.95)" font-size="24.6" stroke="#000" stroke-width="0.3">hsa-miR-15a-5p</text>
<ellipse cx="1054.5" cy="2044.8" rx="36" ry="18.4" fill="#9999FF"/><text transform="translate(1021.88 2049.6) scale(1 0.95)" font-size="24.6" stroke="#000" stroke-width="0.3">hsa-miR-760</text>
<ellipse cx="931.7" cy="2038.9" rx="36" ry="18.4" fill="#9999FF"/><text transform="translate(895.28 2043) scale(1 0.95)" font-size="24.6" stroke="#000" stroke-width="0.3">hsa-miR-3139</text>
<ellipse cx="1143.9" cy="2072.4" rx="36" ry="18.4" fill="#9999FF"/><text transform="translate(1103.28 2077.3) scale(1 0.95)" font-size="24.6" stroke="#000" stroke-width="0.3">hsa-miR-362-3p</text>
<ellipse cx="876.2" cy="2096.7" rx="36" ry="18.4" fill="#9999FF"/><text transform="translate(835.58 2101.5) scale(1 0.95)" font-size="24.6" stroke="#000" stroke-width="0.3">hsa-miR-155-5p</text>
<ellipse cx="964.7" cy="2092.5" rx="36" ry="18.4" fill="#9999FF"/><text transform="translate(925.38 2097.3) scale(1 0.95)" font-size="24.6" stroke="#000" stroke-width="0.3">hsa-miR-128-3p</text>
<ellipse cx="1135.1" cy="2133" rx="36" ry="18.4" fill="#9999FF"/><text transform="translate(1094.78 2137.9) scale(1 0.95)" font-size="24.6" stroke="#000" stroke-width="0.3">hsa-miR-497-5p</text>
<ellipse cx="1234" cy="2112.2" rx="36" ry="18.4" fill="#9999FF"/><text transform="translate(1187.98 2116.4) scale(1 0.95)" font-size="24.6" stroke="#000" stroke-width="0.3">hsa-miR-383-5p.2</text>
<ellipse cx="788.6" cy="2120.2" rx="36" ry="18.4" fill="#9999FF"/><text transform="translate(748.38 2125) scale(1 0.95)" font-size="24.6" stroke="#000" stroke-width="0.3">hsa-miR-452-5p</text>
<ellipse cx="938.4" cy="2150.3" rx="36" ry="18.4" fill="#9999FF"/><text transform="translate(781.38 2155.4) scale(1 0.95)" font-size="24.6" stroke="#000" stroke-width="0.3">hsa-miR-20a-3p</text>
<ellipse cx="1037.7" cy="2146" rx="36" ry="18.4" fill="#9999FF"/><text transform="translate(993.48 2158.2) scale(1 0.95)" font-size="24.6" stroke="#000" stroke-width="0.3">hsa-miR-135a-3p</text>
<ellipse cx="1120.2" cy="2199" rx="36" ry="18.4" fill="#9999FF"/><text transform="translate(1079.28 2204.2) scale(1 0.95)" font-size="24.6" stroke="#000" stroke-width="0.3">hsa-miR-224-5p</text>
<ellipse cx="1207" cy="2187.4" rx="36" ry="18.4" fill="#9999FF"/><text transform="translate(1164.08 2192.4) scale(1 0.95)" font-size="24.6" stroke="#000" stroke-width="0.3">hsa-miR-892c-3p</text>
<ellipse cx="1294.6" cy="2168.5" rx="36" ry="18.4" fill="#9999FF"/><text transform="translate(1254.98 2173.4) scale(1 0.95)" font-size="24.6" stroke="#000" stroke-width="0.3">hsa-miR-214-5p</text>
<ellipse cx="848.4" cy="2191.7" rx="36" ry="18.4" fill="#9999FF"/><text transform="translate(814.58 2195.8) scale(1 0.95)" font-size="24.6" stroke="#000" stroke-width="0.3">hsa-miR-922</text>
<ellipse cx="754.9" cy="2175.3" rx="36" ry="18.4" fill="#9999FF"/><text transform="translate(722.18 2179.8) scale(1 0.95)" font-size="24.6" stroke="#000" stroke-width="0.3">hsa-miR-599</text>
<ellipse cx="759.4" cy="2228.7" rx="36" ry="18.4" fill="#9999FF"/><text transform="translate(717.88 2232.9) scale(1 0.95)" font-size="24.6" stroke="#000" stroke-width="0.3">hsa-miR-708-5p</text>
<ellipse cx="1085" cy="2252.3" rx="36" ry="18.4" fill="#9999FF"/><text transform="translate(1040.88 2256.5) scale(1 0.95)" font-size="24.6" stroke="#000" stroke-width="0.3">hsa-miR-513a-5p</text>
<ellipse cx="1201.4" cy="2254" rx="36" ry="18.4" fill="#9999FF"/><text transform="translate(1161.88 2258.5) scale(1 0.95)" font-size="24.6" stroke="#000" stroke-width="0.3">hsa-miR-221-5p</text>
<ellipse cx="1293.8" cy="2240.1" rx="36" ry="18.4" fill="#9999FF"/><text transform="translate(1253.18 2245) scale(1 0.95)" font-size="24.6" stroke="#000" stroke-width="0.3">hsa-miR-15b-5p</text>
<ellipse cx="848.4" cy="2270.2" rx="36" ry="18.4" fill="#9999FF"/><text transform="translate(803.48 2275) scale(1 0.95)" font-size="24.6" stroke="#000" stroke-width="0.3">hsa-miR-516a-3p</text>
<ellipse cx="969.4" cy="2252.3" rx="36" ry="18.4" fill="#FFFF00"/><text transform="translate(951.87 2256.8) scale(1 0.95)" font-size="24.6" stroke="#000" stroke-width="0.3">CD180</text>
<ellipse cx="743.6" cy="2281.7" rx="36" ry="18.4" fill="#9999FF"/><text transform="translate(702.28 2286.7) scale(1 0.95)" font-size="24.6" stroke="#000" stroke-width="0.3">hsa-miR-339-5p</text>
<ellipse cx="1201.4" cy="2319" rx="36" ry="18.4" fill="#9999FF"/><text transform="translate(1156.78 2323.6) scale(1 0.95)" font-size="24.6" stroke="#000" stroke-width="0.3">hsa-miR-125a-3p</text>
<ellipse cx="1113.6" cy="2306.4" rx="36" ry="18.4" fill="#9999FF"/><text transform="translate(998.78 2310.7) scale(1 0.95)" font-size="24.6" stroke="#000" stroke-width="0.3">hsa-miR-4676-3p</text>
<ellipse cx="1288.7" cy="2311.5" rx="36" ry="18.4" fill="#9999FF"/><text transform="translate(1248.18 2316.1) scale(1 0.95)" font-size="24.6" stroke="#000" stroke-width="0.3">hsa-miR-541-5p</text>
<ellipse cx="793.1" cy="2335.3" rx="36" ry="18.4" fill="#9999FF"/><text transform="translate(640.88 2340.1) scale(1 0.95)" font-size="24.6" stroke="#000" stroke-width="0.3">hsa-miR-378a-5p</text>
<ellipse cx="880.3" cy="2330.1" rx="36" ry="18.4" fill="#9999FF"/><text transform="translate(836.18 2334.9) scale(1 0.95)" font-size="24.6" stroke="#000" stroke-width="0.3">hsa-miR-147b-3p</text>
<ellipse cx="1149.7" cy="2375.1" rx="36" ry="18.4" fill="#9999FF"/><text transform="translate(1100.18 2379.9) scale(1 0.95)" font-size="24.6" stroke="#000" stroke-width="0.3">hsa-miR-203a-3p.1</text>
<ellipse cx="1056.9" cy="2359.5" rx="36" ry="18.4" fill="#9999FF"/><text transform="translate(1008.18 2364.3) scale(1 0.95)" font-size="24.6" stroke="#000" stroke-width="0.3">hsa-miR-203a-3p.2</text>
<ellipse cx="1241.2" cy="2381" rx="36" ry="18.4" fill="#9999FF"/><text transform="translate(1199.88 2386.1) scale(1 0.95)" font-size="24.6" stroke="#000" stroke-width="0.3">hsa-miR-329-3p</text>
<ellipse cx="773" cy="2401" rx="36" ry="18.4" fill="#9999FF"/><text transform="translate(733.08 2405.8) scale(1 0.95)" font-size="24.6" stroke="#000" stroke-width="0.3">hsa-miR-216-5p</text>
<ellipse cx="864.7" cy="2388.9" rx="36" ry="18.4" fill="#9999FF"/><text transform="translate(824.08 2393.7) scale(1 0.95)" font-size="24.6" stroke="#000" stroke-width="0.3">hsa-miR-768-3p</text>
<ellipse cx="968.5" cy="2363.6" rx="36" ry="18.4" fill="#9999FF"/><text transform="translate(812.68 2368.1) scale(1 0.95)" font-size="24.6" stroke="#000" stroke-width="0.3">hsa-miR-185-3p</text>
<ellipse cx="952.9" cy="2417.6" rx="36" ry="18.4" fill="#9999FF"/><text transform="translate(832.68 2422.4) scale(1 0.95)" font-size="24.6" stroke="#000" stroke-width="0.3">hsa-miR-19a-5p</text>
<ellipse cx="1152.3" cy="2433.9" rx="36" ry="18.4" fill="#9999FF"/><text transform="translate(1114.88 2438.7) scale(1 0.95)" font-size="24.6" stroke="#000" stroke-width="0.3">hsa-miR-16-5p</text>
<ellipse cx="1046.5" cy="2417.6" rx="36" ry="18.4" fill="#9999FF"/><text transform="translate(1007.58 2422.4) scale(1 0.95)" font-size="24.6" stroke="#000" stroke-width="0.3">hsa-miR-342-3p</text>
<ellipse cx="864.7" cy="2450.1" rx="36" ry="18.4" fill="#9999FF"/><text transform="translate(828.18 2454.3) scale(1 0.95)" font-size="24.6" stroke="#000" stroke-width="0.3">hsa-miR-422a</text>
<ellipse cx="968.5" cy="2471.9" rx="36" ry="18.4" fill="#9999FF"/><text transform="translate(825.78 2476.1) scale(1 0.95)" font-size="24.6" stroke="#000" stroke-width="0.3">hsa-miR-6838-5p</text>
<ellipse cx="1058.6" cy="2473.7" rx="36" ry="18.4" fill="#9999FF"/><text transform="translate(1007.18 2494.4) scale(1 0.95)" font-size="24.6" stroke="#000" stroke-width="0.3">hsa-miR-875-3p</text>
</g>
<g font-family="'Liberation Sans', Arial, Helvetica, sans-serif" stroke-linejoin="round" font-size="27.8">
<path d="M1657.7 1935.2L1617.7 1750.3M1657.7 1935.2L1730.1 1780.4M1657.7 1935.2L1536.7 1854.8M1657.7 1935.2L1536.4 2013.2M1657.7 1935.2L1628.4 2112.8M1657.7 1935.2L1796.4 2048.5M1945.5 2163L1796.4 2048.5M1945.5 2163L1905.6 1990.7M1945.5 2163L1999 1979.6M1945.5 2163L2068.2 2069.6M1945.5 2163L2081.3 2198.3M1945.5 2163L2039.1 2311.4M1945.5 2163L1956.8 2361.9M1945.5 2163L1867.5 2325.6M1945.5 2163L1824.6 2206.3" stroke="#808080" stroke-width="2.6" fill="none"/>
<ellipse cx="1617.7" cy="1750.3" rx="40.6" ry="28" fill="#FF99FF"/><text transform="translate(1592.38 1756.7) scale(1 1.05)" font-size="27.8" stroke="#000" stroke-width="0.3">POU2F2</text>
<ellipse cx="1730.1" cy="1780.4" rx="40.6" ry="28" fill="#FF99FF"/><text transform="translate(1710.08 1786.5) scale(1 1.05)" font-size="27.8" stroke="#000" stroke-width="0.3">HINFP</text>
<ellipse cx="1536.7" cy="1854.8" rx="40.6" ry="28" fill="#FF99FF"/><text transform="translate(1519.78 1860.9) scale(1 1.05)" font-size="27.8" stroke="#000" stroke-width="0.3">JUND</text>
<ellipse cx="1657.7" cy="1935.2" rx="40.6" ry="28" fill="#FF9999"/><text transform="translate(1637.21 1941.1) scale(1 1.05)" font-size="27.8" stroke="#000" stroke-width="0.3">CD180</text>
<ellipse cx="1536.4" cy="2013.2" rx="40.6" ry="28" fill="#FF99FF"/><text transform="translate(1515.98 2019.3) scale(1 1.05)" font-size="27.8" stroke="#000" stroke-width="0.3">FOXL1</text>
<ellipse cx="1628.4" cy="2112.8" rx="40.6" ry="28" fill="#FF99FF"/><text transform="translate(1605.18 2119.3) scale(1 1.05)" font-size="27.8" stroke="#000" stroke-width="0.3">PRDM1</text>
<ellipse cx="1796.4" cy="2048.5" rx="40.6" ry="28" fill="#FF99FF"/><text transform="translate(1774.78 2054.6) scale(1 1.05)" font-size="27.8" stroke="#000" stroke-width="0.3">FOXC1</text>
<ellipse cx="1905.6" cy="1990.7" rx="40.6" ry="28" fill="#FF99FF"/><text transform="translate(1890.68 1996.5) scale(1 1.05)" font-size="27.8" stroke="#000" stroke-width="0.3">E2F1</text>
<ellipse cx="1999" cy="1979.6" rx="40.6" ry="28" fill="#FF99FF"/><text transform="translate(1978.01 1986.1) scale(1 1.05)" font-size="27.8" stroke="#000" stroke-width="0.3">GATA2</text>
<ellipse cx="2068.2" cy="2069.6" rx="40.6" ry="28" fill="#FF99FF"/><text transform="translate(2045.28 2076) scale(1 1.05)" font-size="27.8" stroke="#000" stroke-width="0.3">PPARG</text>
<ellipse cx="1945.5" cy="2163" rx="40.6" ry="28" fill="#FF9999"/><text transform="translate(1928.51 2169.5) scale(1 1.05)" font-size="27.8" stroke="#000" stroke-width="0.3">COA3</text>
<ellipse cx="2081.3" cy="2198.3" rx="40.6" ry="28" fill="#FF99FF"/><text transform="translate(2065.08 2204.7) scale(1 1.05)" font-size="27.8" stroke="#000" stroke-width="0.3">ESR1</text>
<ellipse cx="1824.6" cy="2206.3" rx="40.6" ry="28" fill="#FF99FF"/><text transform="translate(1799.35 2212.7) scale(1 1.05)" font-size="27.8" stroke="#000" stroke-width="0.3">SREBF1</text>
<ellipse cx="1867.5" cy="2325.6" rx="40.6" ry="28" fill="#FF99FF"/><text transform="translate(1852.28 2331.7) scale(1 1.05)" font-size="27.8" stroke="#000" stroke-width="0.3">NFIC</text>
<ellipse cx="1956.8" cy="2361.9" rx="40.6" ry="28" fill="#FF99FF"/><text transform="translate(1935.68 2368) scale(1 1.05)" font-size="27.8" stroke="#000" stroke-width="0.3">FOXF2</text>
<ellipse cx="2039.1" cy="2311.4" rx="40.6" ry="28" fill="#FF99FF"/><text transform="translate(2017.81 2317.8) scale(1 1.05)" font-size="27.8" stroke="#000" stroke-width="0.3">CREB1</text>
</g>
</svg>
</body></html>
